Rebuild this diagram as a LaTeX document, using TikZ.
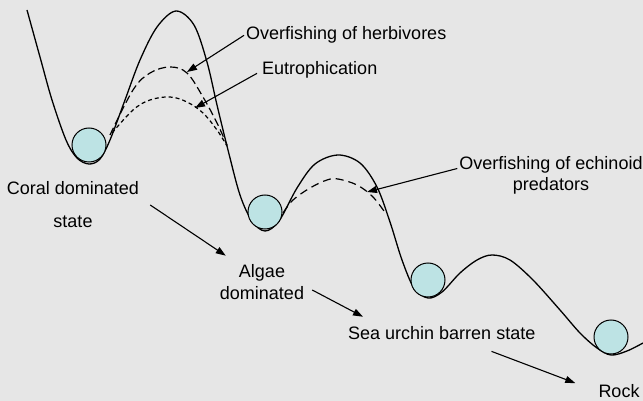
\documentclass[tikz,border=0pt]{standalone}
\usepackage{fontspec}
\setmainfont{Liberation Sans}
\usetikzlibrary{arrows.meta, positioning}
\definecolor{reefbg}{RGB}{230,230,230}
\definecolor{ballcyan}{RGB}{189,227,228}
\tikzset{
    landscape/.style={line width=1.3pt, black, line join=round},
    shiftcurve/.style={line width=1.2pt, black, dash pattern=#1},
    stateball/.style={circle, draw=black, fill=ballcyan, line width=1pt, inner sep=0pt, minimum size=34pt},
    reeflabel/.style={font=\fontsize{18}{20.5}\selectfont, inner sep=2pt, align=center},
    pressarrow/.style={-{Triangle[length=10pt,width=7pt]}, line width=1.1pt, black},
    statearrow/.style={-{Triangle[length=10pt,width=7pt]}, line width=1.1pt, black}
}

\begin{document}
\begin{tikzpicture}[x=1pt, y=1pt]

\fill[reefbg] (0,0) rectangle (643,-401);
\useasboundingbox (0,0) rectangle (643,-401);

% stability landscape
\draw[landscape] plot[smooth, tension=0.55] coordinates {
    (27,-10) (40,-57) (52,-100) (66,-140) (77,-158) (89,-164) (100,-159) (110,-140)
    (125,-100) (140,-60) (157,-27) (176,-11) (194,-25) (207,-62) (217,-105)
    (228,-150) (240,-195) (252,-221) (265,-231) (279,-221) (297,-188) (315,-164)
    (338,-155) (360,-163) (377,-187) (390,-222) (402,-260) (414,-288) (428,-298)
    (442,-292) (460,-273) (477,-260) (492,-255) (510,-260) (533,-280) (560,-310)
    (580,-333) (597,-348) (611,-355) (627,-351) (643,-343)};

% lowered thresholds
\draw[shiftcurve={on 8pt off 4pt}] plot[smooth, tension=0.6] coordinates {
    (110,-135) (133,-90) (150,-73) (170,-67) (187,-73) (203,-97) (217,-123) (227,-145)};
\draw[shiftcurve={on 4pt off 3pt}] plot[smooth, tension=0.6] coordinates {
    (112,-133) (133,-110) (150,-100) (170,-97) (187,-102) (203,-113) (217,-130) (227,-146)};
\draw[shiftcurve={on 8pt off 5pt}] plot[smooth, tension=0.6] coordinates {
    (283,-213) (293,-200) (310,-188) (327,-180) (338,-179) (357,-185) (373,-197) (386,-214)};

% balls
\node[stateball] (ball1) at (89,-145) {};
\node[stateball] (ball2) at (265,-212) {};
\node[stateball] (ball3) at (428,-280) {};
\node[stateball] (ball4) at (611,-337) {};

% pressures
\node[reeflabel, anchor=base west] (herb) at (244,-40) {Overfishing of herbivores};
\node[reeflabel, anchor=base west] (eutro) at (260,-75) {Eutrophication};
\node[reeflabel] (echi) at (551,-175.5) {Overfishing of echinoid\\predators};

\coordinate (herbtip) at (187,-72);
\coordinate (eutrotip) at (195,-108);
\coordinate (echitip) at (367,-192);

\draw[pressarrow] (herb.west) -- (herbtip);
\draw[pressarrow] ([shift={(-3pt,-3pt)}]eutro.west) -- (eutrotip);
\draw[pressarrow] ([yshift=7pt]echi.west) -- (echitip);

% states
\node[reeflabel] (coral) at (73,-205) {Coral dominated\\[12.5pt]state};
\node[reeflabel] (algae) at (262,-282.5) {Algae\\[1.5pt]dominated};
\node[reeflabel, anchor=base west] (sea) at (346,-339) {Sea urchin barren state};
\node[reeflabel, anchor=base] (rock) at (619,-397) {Rock};

\draw[statearrow] ([xshift=9pt]coral.east) -- ([shift={(8pt,7pt)}]algae.north west);
\draw[statearrow] ([shift={(6pt,-7.5pt)}]algae.east) -- ([shift={(17pt,7pt)}]sea.north west);
\draw[statearrow] ([shift={(-46pt,-10pt)}]sea.south east) -- ([shift={(-21pt,7.5pt)}]rock.west);

\end{tikzpicture}
\end{document}
